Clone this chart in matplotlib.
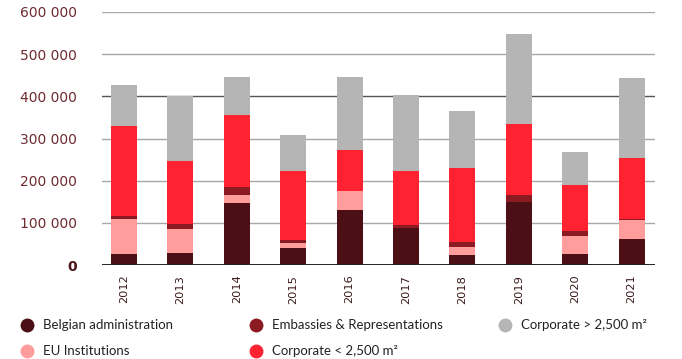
import numpy as np
import matplotlib
matplotlib.use("Agg")
import matplotlib.pyplot as plt
from matplotlib.lines import Line2D

years = ["2012", "2013", "2014", "2015", "2016", "2017", "2018", "2019", "2020", "2021"]

# take-up per segment, m2 (stacked bottom to top)
belgian_admin = [26000, 28000, 147000, 40000, 130000, 88000, 24000, 149000, 26000, 62000]
eu_institutions = [83000, 57000, 19000, 12000, 45000, 0, 19000, 0, 43000, 45000]
embassies = [7000, 12000, 19000, 7000, 0, 7000, 12000, 17000, 12000, 2000]
corporate_small = [213000, 149000, 170000, 164000, 98000, 128000, 175000, 168000, 109000, 145000]
corporate_large = [98000, 154000, 90000, 85000, 173000, 180000, 135000, 214000, 78000, 189000]

yticks = [0, 100000, 200000, 300000, 400000, 500000, 600000]
ytick_labels = ["0", "100 000", "200 000", "300 000", "400 000", "500 000", "600 000"]

series = [
    ("Belgian administration", belgian_admin, "#4b0f15"),
    ("EU Institutions", eu_institutions, "#ff9c9c"),
    ("Embassies & Representations", embassies, "#8c1a22"),
    ("Corporate < 2,500 m\u00b2", corporate_small, "#ff2231"),
    ("Corporate > 2,500 m\u00b2", corporate_large, "#b5b5b5"),
]

plt.rcParams["font.family"] = ["Lato", "DejaVu Sans"]
label_col = "#6e2b30"

W, H = 682, 359
fig = plt.figure(figsize=(W / 100, H / 100), dpi=100)
ax = fig.add_axes([0.1496, 0.2618, 0.8104, 0.7048])

x = np.arange(len(years))
bottom = np.zeros(len(years))
for name, vals, col in series:
    vals = np.array(vals, dtype=float)
    ax.bar(x, vals, 0.46, bottom=bottom, color=col, zorder=3, linewidth=0)
    bottom += vals

# horizontal grid
for t in yticks[1:]:
    gc = "#555555" if t == 400000 else "#a8a8a8"
    ax.axhline(t, color=gc, linewidth=1.0, zorder=1)
ax.axhline(0, color="#222222", linewidth=1.4, zorder=4)

ax.set_xlim(-0.39, 9.41)
ax.set_ylim(0, 600000)
for s in ax.spines.values():
    s.set_visible(False)

ax.set_yticks(yticks)
ax.set_yticklabels(ytick_labels, fontsize=10, color=label_col, family="DejaVu Sans")
ax.get_yticklabels()[0].set_fontweight("bold")
ax.get_yticklabels()[0].set_color("#4b1418")
ax.tick_params(axis="y", length=0, pad=18)

ax.set_xticks(x)
ax.set_xticklabels(years, rotation=90, fontsize=8.2, color="#3a1a1c", family="DejaVu Sans")
ax.tick_params(axis="x", length=0, pad=7)

# legend laid out in three columns under the plot
legend_cols = [27, 256, 505]
legend_rows = [325, 351]
slots = [(0, 0), (0, 1), (1, 0), (1, 1), (2, 0)]
for (name, vals, col), (ci, ri) in zip(series, slots):
    cx = legend_cols[ci] / W
    cy = 1 - legend_rows[ri] / H
    fig.add_artist(Line2D([cx], [cy], marker="o", markersize=10, linestyle="",
                          markerfacecolor=col, markeredgewidth=0,
                          transform=fig.transFigure))
    fig.text(cx + 16 / W, cy, name, fontsize=9.5, color="#222222",
             va="center", ha="left")

fig.savefig("out.png", dpi=100)
